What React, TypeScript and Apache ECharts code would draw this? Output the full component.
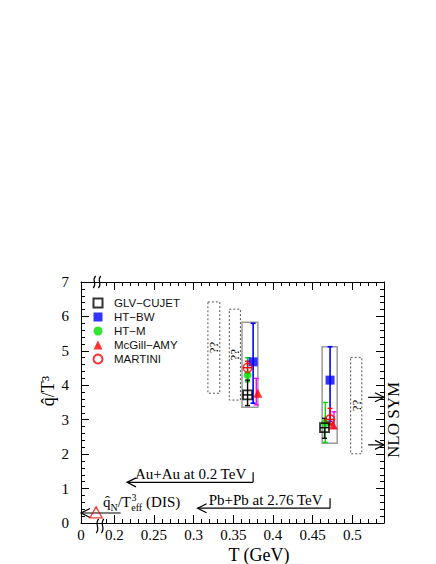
import React, { useEffect, useRef } from "react";
import * as echarts from "echarts";

// ---- axis ranges / ticks ----
const X_MIN = 0.158;
const X_MAX = 0.54;
const xMajorTicks = [0.2, 0.25, 0.3, 0.35, 0.4, 0.45, 0.5];
const xLabelValues = [0.158, 0.2, 0.25, 0.3, 0.35, 0.4, 0.45, 0.5];
const xMinorTicks = [
  0.19, 0.21, 0.22, 0.23, 0.24, 0.26, 0.27, 0.28, 0.29, 0.31, 0.32, 0.33, 0.34,
  0.36, 0.37, 0.38, 0.39, 0.41, 0.42, 0.43, 0.44, 0.46, 0.47, 0.48, 0.49, 0.51,
  0.52, 0.53,
];
const yMin = 0;
const yMax = 7;

// ---- data: [T, qhat/T^3] ----
const glvCujet = [[0.368, 3.72], [0.465, 2.77]];
const glvCujetErr = [[0.368, 3.41, 4.15, 3.72], [0.465, 2.46, 3.04, 2.77]];
const htBw = [[0.375, 4.68], [0.472, 4.15]];
const htBwErr = [[0.375, 3.48, 5.8], [0.472, 2.95, 5.12]];
const htM = [[0.368, 4.3], [0.466, 2.9]];
const htMErr = [[0.368, 4.1, 4.8], [0.466, 2.34, 3.5]];
const mcgillAmy = [[0.381, 3.77], [0.476, 2.85]];
const mcgillAmySys = [[0.379, 3.43, 4.2], [0.477, 2.75, 3.23]];
const martini = [[0.368, 4.51], [0.472, 3.01]];
const martiniErr = [[0.368, 4.35, 4.7, 4.51], [0.472, 2.85, 3.33, 3.01]];
const disPoint = [[0.177, 0.31]];

// boxes: [x1, x2, y1, y2]
const grayBoxes = [[0.361, 0.381, 3.36, 5.83], [0.462, 0.481, 2.32, 5.12]];
const dashedBoxes = [
  [0.318, 0.333, 3.77, 6.42],
  [0.345, 0.359, 3.57, 6.21],
  [0.498, 0.512, 2.01, 4.81],
];

// arrows: [xTip, xEnd, y, bracket(0/1)]
const arrows = [
  [0.216, 0.375, 1.18, 1],
  [0.305, 0.472, 0.43, 1],
  [0.158, 0.208, 0.29, 0],
  [0.54, 0.52, 3.65, 0],
  [0.54, 0.52, 2.27, 0],
];
// annotation labels: [x, y]
const annotationTexts = ["Au+Au at 0.2 TeV", "Pb+Pb at 2.76 TeV"];
const annotationPos = [[0.226, 1.18], [0.319, 0.43]];
const disLabelPos = [[0.1857, 0.29]];

const SERIF = "'Liberation Serif', 'Times New Roman', serif";
const SANS = "'Liberation Sans', Arial, sans-serif";

function errSeries(data: number[][], color: string, width: number) {
  return {
    type: "custom",
    silent: true,
    data,
    encode: { x: 0, y: [1, 2] },
    z: 3,
    renderItem: (params: any, api: any) => {
      const x = api.value(0);
      const top = api.coord([x, api.value(2)]);
      const bot = api.coord([x, api.value(1)]);
      const st = { stroke: color, lineWidth: width, fill: "none" };
      const children: any[] = [
        { type: "line", shape: { x1: top[0], y1: top[1], x2: bot[0], y2: bot[1] }, style: st },
        { type: "line", shape: { x1: top[0] - 2.5, y1: top[1], x2: top[0] + 2.5, y2: top[1] }, style: st },
        { type: "line", shape: { x1: bot[0] - 2.5, y1: bot[1], x2: bot[0] + 2.5, y2: bot[1] }, style: st },
      ];
      const ym = api.value(3);
      if (ym != null && !isNaN(ym)) {
        const m = api.coord([x, ym]);
        children.push({ type: "line", shape: { x1: m[0] - 4.5, y1: m[1], x2: m[0] + 4.5, y2: m[1] }, style: st });
      }
      return { type: "group", children };
    },
  };
}

function buildOption(): any {
  const axisLineStyle = { color: "#000", width: 1 };
  const baseX = {
    type: "value",
    min: X_MIN,
    max: X_MAX,
    splitLine: { show: false },
  };
  const baseY = {
    type: "value",
    min: yMin,
    max: yMax,
    interval: 1,
    splitLine: { show: false },
    minorSplitLine: { show: false },
  };
  return {
    animation: false,
    backgroundColor: "#fff",
    grid: { left: 81, right: 52, top: 282, bottom: 41, containLabel: false },
    legend: {
      orient: "vertical",
      left: 87.5,
      top: 292,
      itemWidth: 9,
      itemHeight: 9,
      itemGap: 2,
      selectedMode: false,
      data: ["GLV\u2212CUJET", "HT\u2212BW", "HT\u2212M", "McGill\u2212AMY", "MARTINI"],
      textStyle: { fontFamily: SANS, fontSize: 11.5, color: "#111", padding: [0, 0, 0, 6.5] },
    },
    xAxis: [
      {
        ...baseX,
        position: "bottom",
        axisLine: { show: true, onZero: false, lineStyle: axisLineStyle },
        axisTick: { show: true, inside: true, length: 8, customValues: xMajorTicks, lineStyle: { color: "#000" } },
        axisLabel: {
          customValues: xLabelValues,
          formatter: (v: number) => (v < 0.19 ? "0" : String(v)),
          fontFamily: SERIF,
          fontSize: 15,
          color: "#000",
          margin: 4,
        },
      },
      {
        ...baseX,
        position: "bottom",
        axisLine: { show: false, onZero: false },
        axisTick: { show: true, inside: true, length: 4, customValues: xMinorTicks, lineStyle: { color: "#000" } },
        axisLabel: { show: false },
      },
      {
        ...baseX,
        position: "top",
        axisLine: { show: true, onZero: false, lineStyle: axisLineStyle },
        axisTick: { show: true, inside: true, length: 8, customValues: xMajorTicks, lineStyle: { color: "#000" } },
        axisLabel: { show: false },
      },
      {
        ...baseX,
        position: "top",
        axisLine: { show: false, onZero: false },
        axisTick: { show: true, inside: true, length: 4, customValues: xMinorTicks, lineStyle: { color: "#000" } },
        axisLabel: { show: false },
      },
    ],
    yAxis: [
      {
        ...baseY,
        position: "left",
        axisLine: { show: true, onZero: false, lineStyle: axisLineStyle },
        axisTick: { show: true, inside: true, length: 8, lineStyle: { color: "#000" } },
        minorTick: { show: true, splitNumber: 5, length: 4, lineStyle: { color: "#000" } },
        axisLabel: { fontFamily: SERIF, fontSize: 15, color: "#000", margin: 12 },
      },
      {
        ...baseY,
        position: "right",
        axisLine: { show: true, onZero: false, lineStyle: axisLineStyle },
        axisTick: { show: true, inside: true, length: 8, lineStyle: { color: "#000" } },
        minorTick: { show: true, splitNumber: 5, length: 4, lineStyle: { color: "#000" } },
        axisLabel: { show: false },
      },
    ],
    graphic: [
      // y-axis title
      {
        type: "text",
        x: 48,
        y: 391,
        rotation: Math.PI / 2,
        style: {
          text: "q\u0302/T\u00b3",
          fontFamily: SERIF,
          fontSize: 18,
          fill: "#000",
          align: "center",
          verticalAlign: "middle",
          textAlign: "center",
          textVerticalAlign: "middle",
        },
      },
      // x-axis title
      {
        type: "text",
        x: 259,
        y: 555,
        style: {
          text: "T (GeV)",
          fontFamily: SERIF,
          fontSize: 18,
          fill: "#000",
          align: "center",
          verticalAlign: "middle",
          textAlign: "center",
          textVerticalAlign: "middle",
        },
      },
      // NLO SYM
      {
        type: "text",
        x: 393,
        y: 420,
        rotation: Math.PI / 2,
        style: {
          text: "NLO SYM",
          fontFamily: SERIF,
          fontSize: 17,
          fill: "#000",
          align: "center",
          verticalAlign: "middle",
          textAlign: "center",
          textVerticalAlign: "middle",
        },
      },
      // axis breaks
      ...[
        { cx: 97, cy: 282, h: 6 },
        { cx: 100, cy: 526, h: 7 },
      ].map((b) => ({
        type: "group",
        z: 100,
        children: [
          { type: "rect", shape: { x: b.cx - 2.5, y: b.cy - 2, width: 5, height: 4 }, style: { fill: "#fff" } },
          ...[-2.6, 2.6].map((dx) => ({
            type: "bezierCurve",
            shape: {
              x1: b.cx + dx + 1.2,
              y1: b.cy - b.h,
              cpx1: b.cx + dx - 3.5,
              cpy1: b.cy - b.h * 0.2,
              cpx2: b.cx + dx + 3.5,
              cpy2: b.cy + b.h * 0.2,
              x2: b.cx + dx - 1.2,
              y2: b.cy + b.h,
            },
            style: { stroke: "#000", lineWidth: 1.2, fill: "none" },
          })),
        ],
      })),
    ],
    series: [
      {
        type: "custom",
        silent: true,
        data: grayBoxes,
        encode: { x: [0, 1], y: [2, 3] },
        z: 1,
        renderItem: (params: any, api: any) => {
          const p1 = api.coord([api.value(0), api.value(3)]);
          const p2 = api.coord([api.value(1), api.value(2)]);
          return {
            type: "rect",
            shape: { x: p1[0], y: p1[1], width: p2[0] - p1[0], height: p2[1] - p1[1] },
            style: { fill: "none", stroke: "#9a9a9a", lineWidth: 1.5 },
          };
        },
      },
      {
        type: "custom",
        silent: true,
        data: dashedBoxes,
        encode: { x: [0, 1], y: [2, 3] },
        z: 1,
        renderItem: (params: any, api: any) => {
          const p1 = api.coord([api.value(0), api.value(3)]);
          const p2 = api.coord([api.value(1), api.value(2)]);
          return {
            type: "group",
            children: [
              {
                type: "rect",
                shape: { x: p1[0], y: p1[1], width: p2[0] - p1[0], height: p2[1] - p1[1] },
                style: { fill: "none", stroke: "#555", lineWidth: 1, lineDash: [2, 2] },
              },
              {
                type: "text",
                x: (p1[0] + p2[0]) / 2,
                y: (p1[1] + p2[1]) / 2,
                rotation: Math.PI / 2,
                style: {
                  text: "??",
                  fontFamily: SERIF,
                  fontSize: 13,
                  fill: "#000",
                  align: "center",
                  verticalAlign: "middle",
                },
              },
            ],
          };
        },
      },
      {
        type: "custom",
        silent: true,
        data: arrows,
        encode: { x: [0, 1], y: 2 },
        z: 2,
        renderItem: (params: any, api: any) => {
          const t = api.coord([api.value(0), api.value(2)]);
          const e = api.coord([api.value(1), api.value(2)]);
          const s = Math.sign(e[0] - t[0]);
          const st = { stroke: "#000", lineWidth: 1.2, fill: "none" };
          const children: any[] = [
            { type: "line", shape: { x1: t[0], y1: t[1], x2: e[0], y2: e[1] }, style: st },
            { type: "polyline", shape: { points: [[t[0] + s * 9, t[1] - 4.5], [t[0], t[1]], [t[0] + s * 9, t[1] + 4.5]] }, style: st },
          ];
          if (api.value(3) > 0) {
            children.push({ type: "line", shape: { x1: e[0], y1: e[1], x2: e[0], y2: e[1] - 10 }, style: st });
          }
          return { type: "group", children };
        },
      },
      {
        type: "custom",
        silent: true,
        data: annotationPos,
        encode: { x: 0, y: 1 },
        z: 2,
        renderItem: (params: any, api: any) => {
          const p = api.coord([api.value(0), api.value(1)]);
          return {
            type: "text",
            x: p[0],
            y: p[1] - 0.5,
            style: {
              text: annotationTexts[params.dataIndex],
              fontFamily: SERIF,
              fontSize: 15,
              fill: "#000",
              align: "left",
              verticalAlign: "bottom",
            },
          };
        },
      },
      {
        type: "custom",
        silent: true,
        data: disLabelPos,
        encode: { x: 0, y: 1 },
        z: 2,
        renderItem: (params: any, api: any) => {
          const p = api.coord([api.value(0), api.value(1)]);
          const x0 = p[0];
          const yb = p[1] - 4;
          const mk = (text: string, dx: number, dy: number, size: number) => ({
            type: "text",
            x: x0 + dx,
            y: yb + dy,
            style: { text, fontFamily: SERIF, fontSize: size, fill: "#000", align: "left", verticalAlign: "bottom" },
          });
          return {
            type: "group",
            children: [
              mk("q\u0302", 0, 0, 15),
              mk("N", 7.5, 3, 10),
              mk("/T", 14.7, 0, 15),
              mk("eff", 28.3, 3, 10),
              mk("3", 28.6, -7, 10),
              mk(" (DIS)", 39.4, 0, 15),
            ],
          };
        },
      },
      errSeries(htBwErr, "#0000ff", 1.6),
      errSeries(htMErr, "#00dd00", 1.4),
      errSeries(mcgillAmySys, "#ff00ff", 1.4),
      errSeries(martiniErr, "#ff0000", 1.4),
      errSeries(glvCujetErr, "#000000", 1.4),
      {
        name: "HT\u2212BW",
        type: "scatter",
        data: htBw,
        symbol: "rect",
        symbolSize: 9,
        itemStyle: { color: "#0000ff" },
        z: 4,
      },
      {
        name: "HT\u2212M",
        type: "scatter",
        data: htM,
        symbol: "circle",
        symbolSize: 8,
        itemStyle: { color: "#00dd00" },
        z: 4,
      },
      {
        name: "McGill\u2212AMY",
        type: "scatter",
        data: mcgillAmy,
        symbol: "triangle",
        symbolSize: 9,
        itemStyle: { color: "#ff0000" },
        z: 4,
      },
      {
        name: "MARTINI",
        type: "scatter",
        data: martini,
        symbol: "circle",
        symbolSize: 9,
        itemStyle: { color: "rgba(255,255,255,0)", borderColor: "#ff0000", borderWidth: 1.6 },
        z: 5,
      },
      {
        name: "GLV\u2212CUJET",
        type: "scatter",
        data: glvCujet,
        symbol: "rect",
        symbolSize: 9,
        itemStyle: { color: "rgba(255,255,255,0)", borderColor: "#000", borderWidth: 1.8 },
        z: 5,
      },
      {
        name: "DIS",
        type: "scatter",
        data: disPoint,
        symbol: "triangle",
        symbolSize: [12, 11],
        itemStyle: { color: "rgba(255,255,255,0)", borderColor: "#ff0000", borderWidth: 1.3 },
        z: 5,
      },
    ],
  };
}

export default function App() {
  const ref = useRef<HTMLDivElement>(null);
  useEffect(() => {
    if (!ref.current) return;
    const chart = echarts.init(ref.current, null, { renderer: "svg" });
    chart.setOption(buildOption());
    return () => chart.dispose();
  }, []);
  return (
    <div
      ref={ref}
      style={{ position: "fixed", left: 0, top: 0, width: 436, height: 564, background: "#fff" }}
    />
  );
}
